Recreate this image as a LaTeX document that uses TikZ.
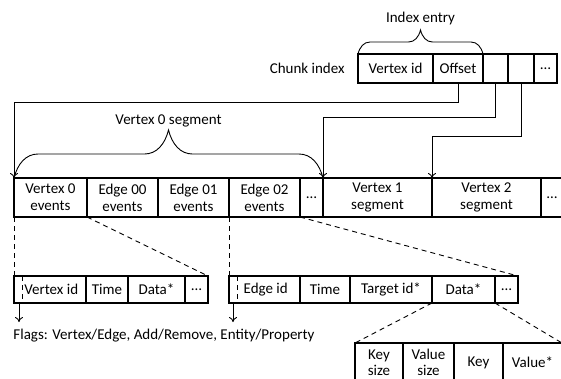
\documentclass[tikz,border=0pt]{standalone}
\usepackage{fontspec}
\setmainfont{Carlito}
\usetikzlibrary{positioning,decorations.pathreplacing,arrows.meta}
\begin{document}
\begin{tikzpicture}[x=1pt, y=-1pt, line width=0.9pt,
    font=\fontsize{15pt}{17pt}\selectfont,
    cell/.style={draw, line width=1.2pt, inner sep=0pt, outer sep=0pt, align=center},
    idx/.style={cell, minimum height=29pt},
    seg/.style={cell, minimum height=39pt},
    evt/.style={cell, minimum height=27pt},
    kv/.style={cell, minimum height=39pt, font=\fontsize{15pt}{16pt}\selectfont},
    link/.style={dash pattern=on 5pt off 4pt},
    ptr/.style={-{To[length=5pt, width=8pt]}},
    curly/.style={decorate, decoration={brace, amplitude=#1, transform={yscale=2}}}]
  \useasboundingbox (0,0) rectangle (561,378);
  \clip (0,0) rectangle (561,378);
  \node[idx, minimum width=75pt, anchor=north west] (vid) at (358,54) {Vertex id};
  \node[idx, minimum width=50pt, right=0pt of vid] (off) {Offset};
  \node[idx, minimum width=25pt, right=0pt of off] (c3) {};
  \node[idx, minimum width=26pt, right=0pt of c3] (c4) {};
  \node[idx, minimum width=23pt, right=0pt of c4] (c5) {\dots};
  \node[left=13pt of vid, inner sep=0pt] (chunk) {Chunk index};
  \node[seg, minimum width=73pt, anchor=north west] (v0) at (14,178) {Vertex 0\\events};
  \node[seg, minimum width=71pt, right=0pt of v0] (e00) {Edge 00\\events};
  \node[seg, minimum width=71pt, right=0pt of e00] (e01) {Edge 01\\events};
  \node[seg, minimum width=71pt, right=0pt of e01] (e02) {Edge 02\\events};
  \node[seg, minimum width=23pt, right=0pt of e02] (sdots) {\dots};
  \node[seg, minimum width=109pt, right=0pt of sdots] (v1) {Vertex 1\\segment};
  \node[seg, minimum width=109pt, right=0pt of v1] (v2) {Vertex 2\\segment};
  \node[seg, minimum width=22pt, right=0pt of v2] (sdots2) {\dots};
  \node[evt, minimum width=72pt, anchor=north west] (vvid) at (14,276) {\,Vertex id};
  \node[evt, minimum width=42pt, right=0pt of vvid] (vtime) {Time};
  \node[evt, minimum width=57pt, right=0pt of vtime] (vdata) {Data*};
  \node[evt, minimum width=23pt, right=0pt of vdata] (vdots) {\dots};
  \node[evt, minimum width=71pt, anchor=north west] (eid) at (229,276) {\,Edge id};
  \node[evt, minimum width=50pt, right=0pt of eid] (etime) {Time};
  \node[evt, minimum width=82pt, right=0pt of etime] (etgt) {Target id*};
  \node[evt, minimum width=63pt, right=0pt of etgt] (edata) {Data*};
  \node[evt, minimum width=23pt, right=0pt of edata] (edots) {\dots};
  \node[kv, minimum width=48pt, anchor=north west] (ksz) at (355,343) {Key\\size};
  \node[kv, minimum width=51pt, right=0pt of ksz] (vsz) {Value\\size};
  \node[kv, minimum width=49pt, right=0pt of vsz] (key) {Key};
  \node[kv, minimum width=59pt, right=0pt of key] (val) {Value*};
  \node[anchor=west, inner sep=0pt] (flags) at (13,336) {Flags: Vertex/Edge, Add/Remove, Entity/Property};
  \coordinate (vflag) at (19,322);
  \coordinate (eflag) at (233,322);
  \draw[curly=12pt] (vid.north west) -- (off.north east) node[midway, yshift=36pt] (ie) {Index entry};
  \draw[curly=24pt] (v0.north west) -- (v1.north west) node[midway, yshift=57pt] (segl) {Vertex 0 segment};
  \draw[ptr] (off.south) -- ++(0,19) -| (v0.north west);
  \draw[ptr] (c3.south) -- ++(0,34) -| (v1.north west);
  \draw[ptr] (c4.south) -- ++(0,53) -| (v2.north west);
  \begin{scope}[link]
    \draw (v0.south west) -- (vvid.north west);
    \draw (e00.south west) -- (vdots.north east);
    \draw (e02.south west) -- (eid.north west);
    \draw (sdots.south west) -- (edots.north east);
    \draw (edata.south west) -- (ksz.north west);
    \draw (edata.south east) -- (val.north east);
    \draw ([xshift=8pt]vvid.north west) -- ([xshift=8pt]vvid.south west);
    \draw ([xshift=8pt]eid.north west) -- ([xshift=8pt]eid.south west);
  \end{scope}
  \draw[ptr] (vvid.south west -| vflag) -- (vflag);
  \draw[ptr] (eid.south west -| eflag) -- (eflag);
\end{tikzpicture}
\end{document}
